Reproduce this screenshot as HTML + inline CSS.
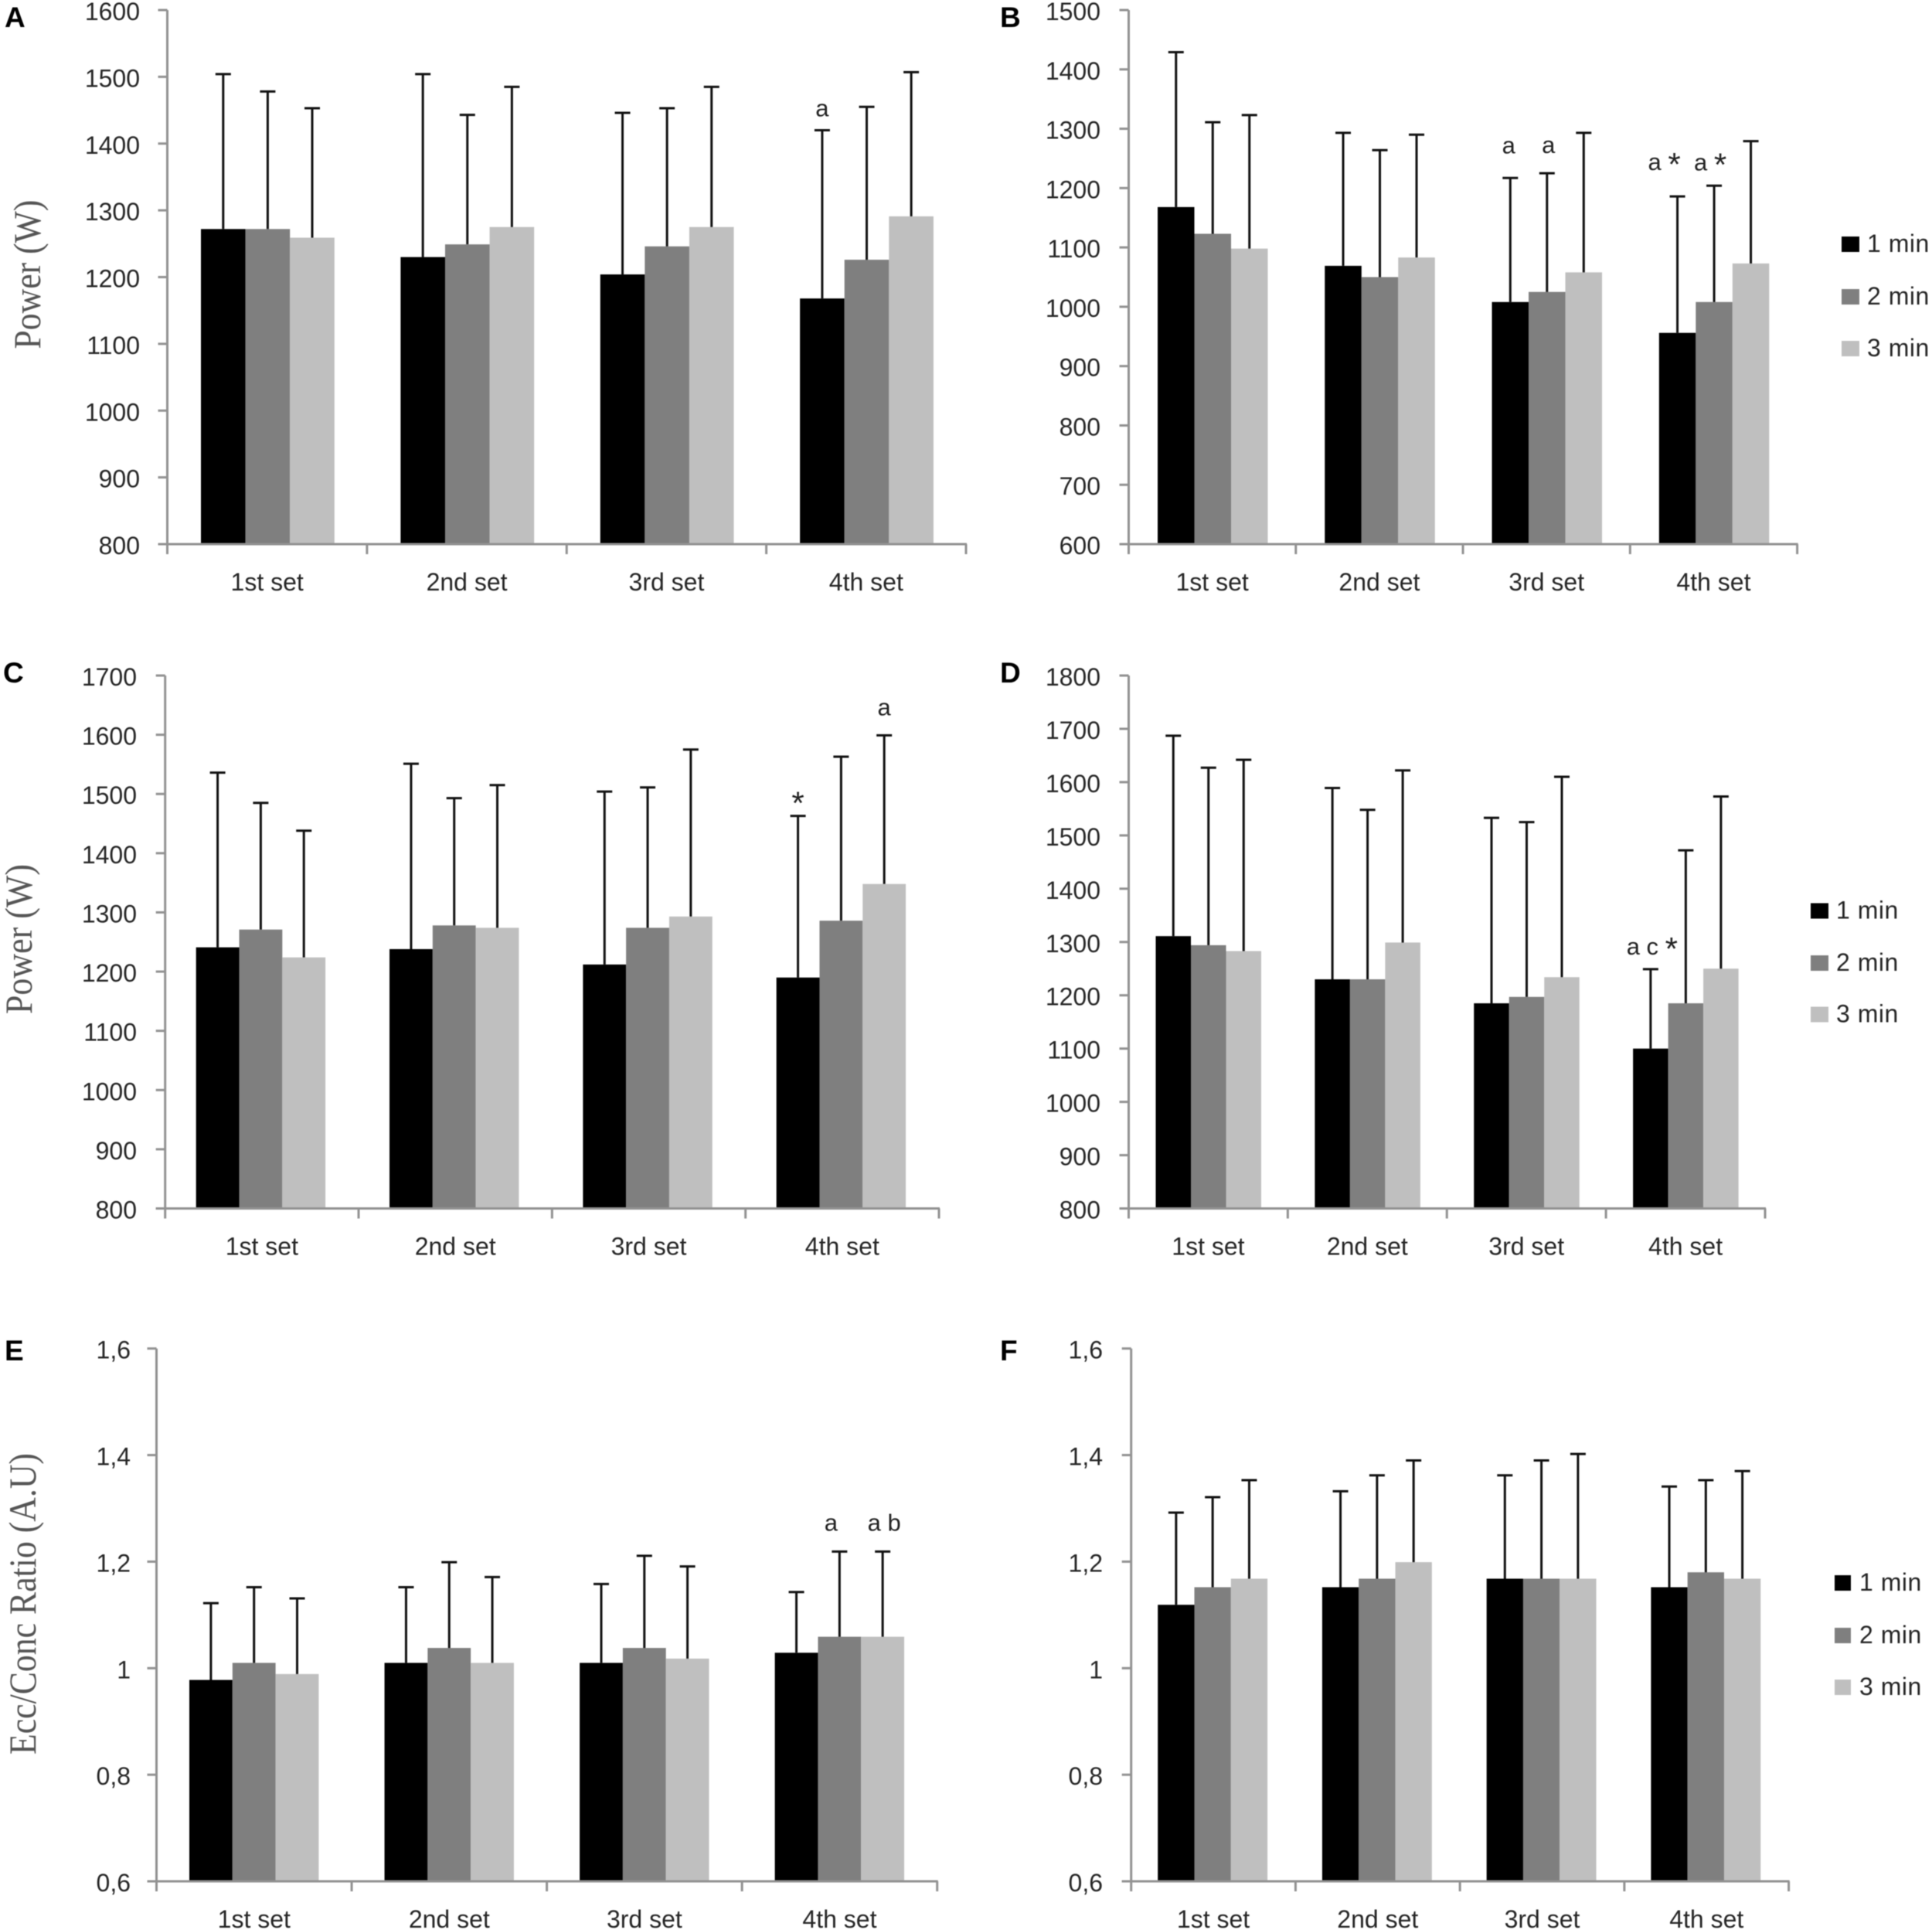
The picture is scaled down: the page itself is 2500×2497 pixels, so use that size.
<!DOCTYPE html>
<html lang="en">
<head>
<meta charset="utf-8">
<title>Power and eccentric/concentric ratio by set and rest interval</title>
<style>
html,body{margin:0;padding:0;background:#fff;}
body{width:2500px;height:2497px;overflow:hidden;}
svg{display:block;filter:blur(0.6px);}
text{font-family:"Liberation Sans",sans-serif;}
</style>
</head>
<body>
<svg id="figure" xmlns="http://www.w3.org/2000/svg" width="2500" height="2497" viewBox="0 0 2500 2497">
<rect x="0" y="0" width="2500" height="2497" fill="#ffffff"/>
</svg>
<script>
const categories = ['1st set', '2nd set', '3rd set', '4th set'];
const seriesNames = ['1 min', '2 min', '3 min'];

const ticksA = [800, 900, 1000, 1100, 1200, 1300, 1400, 1500, 1600];
const a1Min = [1272, 1230, 1204, 1168];
const a2Min = [1272, 1249, 1246, 1226];
const a3Min = [1259, 1275, 1275, 1291];
const a1MinUpper = [1504, 1504, 1446, 1420];
const a2MinUpper = [1478, 1443, 1453, 1455];
const a3MinUpper = [1453, 1485, 1485, 1507];

const ticksB = [600, 700, 800, 900, 1000, 1100, 1200, 1300, 1400, 1500];
const b1Min = [1168, 1069, 1008, 956];
const b2Min = [1123, 1050, 1025, 1008];
const b3Min = [1098, 1083, 1058, 1073];
const b1MinUpper = [1429, 1293, 1217, 1186];
const b2MinUpper = [1311, 1264, 1225, 1204];
const b3MinUpper = [1323, 1290, 1293, 1279];

const ticksC = [800, 900, 1000, 1100, 1200, 1300, 1400, 1500, 1600, 1700];
const c1Min = [1241, 1238, 1212, 1190];
const c2Min = [1271, 1278, 1274, 1286];
const c3Min = [1224, 1274, 1293, 1348];
const c1MinUpper = [1536, 1551, 1504, 1463];
const c2MinUpper = [1485, 1493, 1511, 1563];
const c3MinUpper = [1438, 1515, 1575, 1599];

const ticksD = [800, 900, 1000, 1100, 1200, 1300, 1400, 1500, 1600, 1700, 1800];
const d1Min = [1311, 1230, 1185, 1100];
const d2Min = [1294, 1230, 1197, 1185];
const d3Min = [1283, 1299, 1234, 1250];
const d1MinUpper = [1687, 1589, 1533, 1249];
const d2MinUpper = [1627, 1548, 1525, 1472];
const d3MinUpper = [1642, 1622, 1610, 1573];

const ticksE = [0.6, 0.8, 1, 1.2, 1.4, 1.6];
const e1Min = [0.978, 1.01, 1.01, 1.029];
const e2Min = [1.01, 1.038, 1.038, 1.059];
const e3Min = [0.989, 1.01, 1.018, 1.059];
const e1MinUpper = [1.122, 1.152, 1.158, 1.143];
const e2MinUpper = [1.152, 1.199, 1.211, 1.219];
const e3MinUpper = [1.131, 1.171, 1.191, 1.219];

const ticksF = [0.6, 0.8, 1, 1.2, 1.4, 1.6];
const f1Min = [1.119, 1.152, 1.168, 1.152];
const f2Min = [1.152, 1.168, 1.168, 1.18];
const f3Min = [1.168, 1.199, 1.168, 1.168];
const f1MinUpper = [1.292, 1.332, 1.362, 1.341];
const f2MinUpper = [1.321, 1.362, 1.39, 1.353];
const f3MinUpper = [1.353, 1.39, 1.402, 1.37];

const SVG_NS = 'http://www.w3.org/2000/svg';
const root = document.getElementById('figure');
const seriesColors = ['#000000', '#7f7f7f', '#bfbfbf'];
const AXIS_COLOR = '#929292';
const TEXT_COLOR = '#262626';

const panels = [
  { id: 'a', letter: 'A', letterX: 6, letterY: 35, x0: 216.5, x1: 1250, top: 13, bottom: 704,
    labelRight: 181, barOffset: 43.5, barWidth: 57.6, ticks: ticksA,
    means: [a1Min, a2Min, a3Min], uppers: [a1MinUpper, a2MinUpper, a3MinUpper],
    yTitle: { text: 'Power (W)', x: 52, center: 355, length: 193 },
    notes: [{ set: 3, series: 0, text: 'a', dx: 0, dy: 18 }] },
  { id: 'b', letter: 'B', letterX: 1294, letterY: 35, x0: 1460.5, x1: 2325.6, top: 13, bottom: 704,
    labelRight: 1424, barOffset: 37.5, barWidth: 47.5, ticks: ticksB,
    means: [b1Min, b2Min, b3Min], uppers: [b1MinUpper, b2MinUpper, b3MinUpper],
    legend: { swatchX: 2383, swatchW: 23, textX: 2416, rows: [316, 384, 451] },
    notes: [
      { set: 2, series: 0, text: 'a', dx: -2, dy: 32 },
      { set: 2, series: 1, text: 'a', dx: 2, dy: 26 },
      { set: 3, series: 0, text: 'a *', dx: -17, dy: 34 },
      { set: 3, series: 1, text: 'a *', dx: -5, dy: 20 }] },
  { id: 'c', letter: 'C', letterX: 4, letterY: 883, x0: 213.7, x1: 1215, top: 874, bottom: 1563.5,
    labelRight: 177, barOffset: 40, barWidth: 55.8, ticks: ticksC,
    means: [c1Min, c2Min, c3Min], uppers: [c1MinUpper, c2MinUpper, c3MinUpper],
    yTitle: { text: 'Power (W)', x: 41, center: 1215, length: 194 },
    notes: [
      { set: 3, series: 0, text: '*', dx: 0, dy: 9 },
      { set: 3, series: 2, text: 'a', dx: 0, dy: 26 }] },
  { id: 'd', letter: 'D', letterX: 1294, letterY: 883, x0: 1460.5, x1: 2284, top: 874, bottom: 1563.5,
    labelRight: 1424, barOffset: 35, barWidth: 45.5, ticks: ticksD,
    means: [d1Min, d2Min, d3Min], uppers: [d1MinUpper, d2MinUpper, d3MinUpper],
    legend: { swatchX: 2343, swatchW: 23, textX: 2376, rows: [1178.5, 1246, 1312.5] },
    notes: [{ set: 3, series: 0, text: 'a c *', dx: 2, dy: 19 }] },
  { id: 'e', letter: 'E', letterX: 6, letterY: 1760, x0: 202.5, x1: 1212.7, top: 1744.7, bottom: 2434,
    labelRight: 169, barOffset: 42.5, barWidth: 55.8, ticks: ticksE,
    means: [e1Min, e2Min, e3Min], uppers: [e1MinUpper, e2MinUpper, e3MinUpper],
    yTitle: { text: 'Ecc/Conc Ratio (A.U)', x: 46, center: 2075, length: 390 },
    notes: [
      { set: 3, series: 1, text: 'a', dx: -11, dy: 27 },
      { set: 3, series: 2, text: 'a b', dx: 2, dy: 27 }] },
  { id: 'f', letter: 'F', letterX: 1294, letterY: 1760, x0: 1463.7, x1: 2314.6, top: 1744.7, bottom: 2434,
    labelRight: 1427, barOffset: 34.5, barWidth: 47.3, ticks: ticksF,
    means: [f1Min, f2Min, f3Min], uppers: [f1MinUpper, f2MinUpper, f3MinUpper],
    legend: { swatchX: 2374, swatchW: 21, textX: 2406, rows: [2048, 2116, 2183] },
    notes: [] }
];

function make(parent, tag, attrs, name) {
  const node = document.createElementNS(SVG_NS, tag);
  Object.keys(attrs).forEach(function (k) { node.setAttribute(k, attrs[k]); });
  
  
  parent.appendChild(node);
  return node;
}

function makeText(parent, attrs, content, name) {
  const node = make(parent, 'text', attrs, name);
  node.textContent = content;
  return node;
}

function formatTick(v) {
  return String(v).replace('.', ',');
}

function drawNote(parent, x, y, content, name) {
  const node = make(parent, 'text', { x: x, y: y, 'text-anchor': 'middle', 'font-size': 31, fill: '#222' }, name);
  const starAt = content.indexOf('*');
  if (starAt < 0) {
    node.textContent = content;
    return;
  }
  if (starAt > 0) {
    node.appendChild(document.createTextNode(content.slice(0, starAt)));
  }
  const star = make(node, 'tspan', { 'font-size': 42, dy: 7 }, 'significance-asterisk');
  star.textContent = '*';
}

function drawPanel(p) {
  const g = make(root, 'g', {}, 'panel-' + p.id);
  const minV = p.ticks[0];
  const maxV = p.ticks[p.ticks.length - 1];
  const yScale = function (v) { return p.bottom - (v - minV) / (maxV - minV) * (p.bottom - p.top); };
  const band = (p.x1 - p.x0) / categories.length;
  const barX = function (setIdx, seriesIdx) { return p.x0 + band * setIdx + p.barOffset + p.barWidth * seriesIdx; };
  const barCenter = function (setIdx, seriesIdx) { return barX(setIdx, seriesIdx) + p.barWidth / 2; };

  makeText(g, { x: p.letterX, y: p.letterY, 'font-size': 37, 'font-weight': 'bold', fill: '#000' }, p.letter, 'panel-label-' + p.id);

  if (p.yTitle) {
    const t = p.yTitle;
    makeText(g, {
      transform: 'translate(' + t.x + ',' + t.center + ') rotate(-90)',
      'text-anchor': 'middle', 'font-size': 50, fill: '#555555',
      style: 'font-family:"Liberation Serif",serif',
      textLength: t.length, lengthAdjust: 'spacingAndGlyphs'
    }, t.text, 'y-axis-title-' + p.id);
  }

  categories.forEach(function (cat, setIdx) {
    p.means.forEach(function (values, seriesIdx) {
      const yTop = yScale(values[setIdx]);
      make(g, 'rect', {
        x: barX(setIdx, seriesIdx), y: yTop, width: p.barWidth, height: p.bottom - yTop,
        fill: seriesColors[seriesIdx]
      }, 'bar-' + p.id + '-set' + (setIdx + 1) + '-min' + (seriesIdx + 1));
    });
  });

  categories.forEach(function (cat, setIdx) {
    p.uppers.forEach(function (values, seriesIdx) {
      const cx = barCenter(setIdx, seriesIdx);
      const yUp = yScale(values[setIdx]);
      const yMean = yScale(p.means[seriesIdx][setIdx]);
      make(g, 'line', { x1: cx, x2: cx, y1: yMean, y2: yUp, stroke: '#111', 'stroke-width': 3 },
        'error-bar-' + p.id + '-set' + (setIdx + 1) + '-min' + (seriesIdx + 1));
      make(g, 'line', { x1: cx - 10, x2: cx + 10, y1: yUp, y2: yUp, stroke: '#111', 'stroke-width': 3 },
        'error-cap-' + p.id + '-set' + (setIdx + 1) + '-min' + (seriesIdx + 1));
    });
  });

  make(g, 'line', { x1: p.x0, x2: p.x0, y1: p.top, y2: p.bottom + 13, stroke: AXIS_COLOR, 'stroke-width': 3 }, 'y-axis-' + p.id);
  make(g, 'line', { x1: p.x0 - 12, x2: p.x1 + 1, y1: p.bottom, y2: p.bottom, stroke: AXIS_COLOR, 'stroke-width': 3 }, 'x-axis-' + p.id);

  p.ticks.forEach(function (v) {
    const y = yScale(v);
    make(g, 'line', { x1: p.x0 - 12, x2: p.x0, y1: y, y2: y, stroke: AXIS_COLOR, 'stroke-width': 3 }, 'y-tick-' + p.id);
    makeText(g, { x: p.labelRight, y: y + 13, 'text-anchor': 'end', 'font-size': 32, fill: TEXT_COLOR }, formatTick(v), 'y-tick-label-' + p.id);
  });

  for (let i = 1; i <= categories.length; i++) {
    const x = p.x0 + band * i;
    make(g, 'line', { x1: x, x2: x, y1: p.bottom, y2: p.bottom + 13, stroke: AXIS_COLOR, 'stroke-width': 3 }, 'x-tick-' + p.id);
  }

  categories.forEach(function (cat, setIdx) {
    makeText(g, { x: p.x0 + band * (setIdx + 0.5), y: p.bottom + 60, 'text-anchor': 'middle', 'font-size': 32, fill: TEXT_COLOR }, cat, 'x-tick-label-' + p.id);
  });

  p.notes.forEach(function (n) {
    const x = barCenter(n.set, n.series) + n.dx;
    const y = yScale(p.uppers[n.series][n.set]) - n.dy;
    drawNote(g, x, y, n.text, 'significance-note-' + p.id);
  });

  if (p.legend) {
    const lg = make(g, 'g', {}, 'legend-' + p.id);
    seriesNames.forEach(function (s, i) {
      const cy = p.legend.rows[i];
      make(lg, 'rect', { x: p.legend.swatchX, y: cy - 10, width: p.legend.swatchW, height: 20, fill: seriesColors[i] }, 'legend-swatch-' + p.id);
      makeText(lg, { x: p.legend.textX, y: cy + 10, 'font-size': 32, 'letter-spacing': 0.5, fill: TEXT_COLOR }, s, 'legend-entry-' + p.id);
    });
  }
}

panels.forEach(drawPanel);
</script>
</body>
</html>
